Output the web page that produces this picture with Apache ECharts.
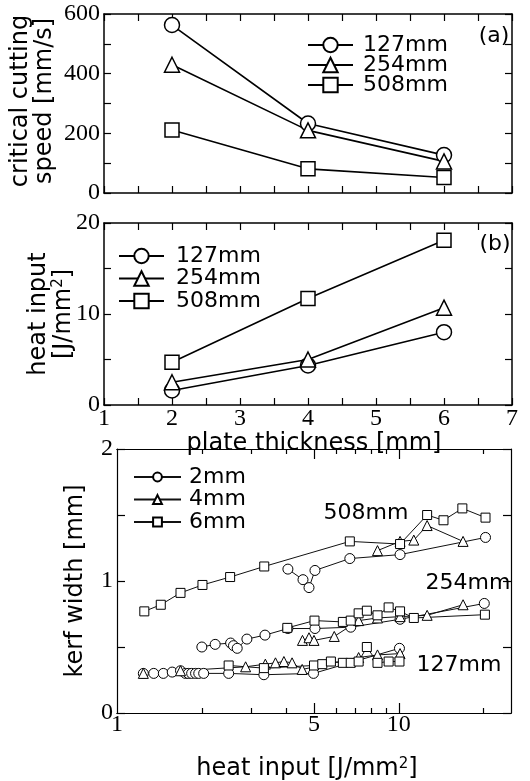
<!DOCTYPE html>
<html>
<head>
<meta charset="utf-8">
<script src="https://cdn.jsdelivr.net/npm/echarts@6.0.0/dist/echarts.min.js"></script>
<style>
html, body { margin: 0; padding: 0; background: #fff; }
#main { width: 530px; height: 781px; }
</style>
</head>
<body>
<div id="main"></div>
<script>
// plate thickness [mm]
var thickness = [2, 4, 6];
// (a) critical cutting speed [mm/s]
var speed127 = [563, 233, 127];
var speed254 = [430, 210, 106];
var speed508 = [211, 81, 52];
// (b) heat input [J/mm2]
var heat127 = [1.6, 4.35, 8.0];
var heat254 = [2.5, 5.0, 10.7];
var heat508 = [4.7, 11.7, 18.1];
var thickTicks = [1, 2, 3, 4, 5, 6, 7];

// kerf width vs heat input, [heat input, kerf width], one list per plate / beam
var kerf2mm_508 = [[4.04, 1.09], [4.57, 1.01], [4.80, 0.95], [5.04, 1.08], [6.7, 1.17], [10.1, 1.20], [20.3, 1.33]];
var kerf4mm_508 = [[8.4, 1.23], [10.1, 1.30], [11.3, 1.31], [12.6, 1.42], [16.9, 1.30]];
var kerf6mm_508 = [[1.25, 0.77], [1.43, 0.82], [1.68, 0.91], [2.01, 0.97], [2.52, 1.03], [3.33, 1.11], [6.7, 1.30], [10.1, 1.28], [12.6, 1.50], [14.4, 1.46], [16.8, 1.55], [20.3, 1.48]];

var kerf2mm_254 = [[2.0, 0.50], [2.23, 0.52], [2.53, 0.53], [2.59, 0.51], [2.67, 0.49], [2.89, 0.56], [3.35, 0.59], [4.04, 0.64], [5.04, 0.64], [6.75, 0.65], [10.1, 0.71], [20.1, 0.83]];
var kerf4mm_254 = [[4.55, 0.55], [4.8, 0.57], [5.0, 0.55], [5.9, 0.58], [7.2, 0.70], [8.4, 0.72], [10.1, 0.73], [12.6, 0.74], [16.9, 0.82]];
var kerf6mm_254 = [[4.02, 0.645], [5.02, 0.70], [6.33, 0.69], [6.75, 0.70], [7.2, 0.755], [7.7, 0.775], [8.4, 0.74], [9.2, 0.80], [10.1, 0.77], [11.3, 0.72], [20.2, 0.745]];

var kerf2mm_127 = [[1.24, 0.30], [1.35, 0.30], [1.46, 0.30], [1.57, 0.31], [1.68, 0.32], [1.75, 0.30], [1.79, 0.30], [1.84, 0.30], [1.90, 0.30], [1.95, 0.30], [2.03, 0.30], [2.49, 0.30], [3.32, 0.29], [4.98, 0.30], [10.05, 0.49]];
var kerf4mm_127 = [[1.24, 0.30], [1.68, 0.32], [2.86, 0.35], [3.36, 0.37], [3.65, 0.38], [3.91, 0.39], [4.18, 0.38], [4.54, 0.33], [7.2, 0.42], [8.4, 0.44], [10.1, 0.45]];
var kerf6mm_127 = [[2.49, 0.36], [3.32, 0.34], [5.0, 0.36], [5.35, 0.37], [5.74, 0.39], [6.33, 0.38], [6.75, 0.38], [7.2, 0.39], [7.7, 0.50], [8.4, 0.38], [9.2, 0.39], [10.05, 0.39]];

var heatMajor = [5, 10];
var heatMinor = [2, 3, 4, 6, 7, 8, 9, 20];
var heatLabels = [1, 5, 10];

var SANS = '"DejaVu Sans", sans-serif';
var SERIF = '"Liberation Serif", "DejaVu Serif", serif';

function pairs(xs, ys) {
  return xs.map(function (x, i) { return [x, ys[i]]; });
}

var myChart = echarts.init(document.getElementById('main'));

function frameX(grid, pos, labels, opt) {
  var a = {
    type: 'value', gridIndex: grid, position: pos,
    min: 1, max: 7, interval: 0.5,
    axisLine: { onZero: false, lineStyle: { color: '#000', width: 1.5 } },
    axisTick: { inside: true, length: 7, lineStyle: { color: '#000', width: 1.2 } },
    axisLabel: { show: labels, margin: 2, color: '#000', fontFamily: SERIF, fontSize: 24,
      customValues: thickTicks },
    splitLine: { show: false },
    nameMoveOverlap: false
  };
  return Object.assign(a, opt || {});
}

function frameY(grid, pos, max, interval, labelStep, labels, opt) {
  var a = {
    type: 'value', gridIndex: grid, position: pos,
    min: 0, max: max, interval: interval,
    axisLine: { onZero: false, lineStyle: { color: '#000', width: 1.5 } },
    axisTick: { inside: true, length: 7, lineStyle: { color: '#000', width: 1.2 } },
    axisLabel: { show: labels, margin: 4, color: '#000', fontFamily: SERIF, fontSize: 24,
      formatter: function (v) { return Math.abs(v % labelStep) < 1e-9 ? v : ''; } },
    splitLine: { show: false },
    nameMoveOverlap: false
  };
  return Object.assign(a, opt || {});
}

// log heat-input axis; several share the frame, each with its own tick set
function logX(pos, ticks, len, labels) {
  return {
    type: 'log', gridIndex: 2, position: pos,
    min: 1, max: 25,
    axisLine: { onZero: false, lineStyle: { color: '#000', width: 1.2 } },
    axisTick: { inside: true, length: len, customValues: ticks, lineStyle: { color: '#000', width: 1.2 } },
    axisLabel: { show: labels, margin: 0, color: '#000', fontFamily: SERIF, fontSize: 24,
      customValues: heatLabels },
    splitLine: { show: false },
    nameMoveOverlap: false
  };
}

var big = { borderColor: '#000', borderWidth: 1.5, color: '#fff' };
function abSeries(name, sym, xi, yi, data) {
  return {
    name: name, type: 'line', xAxisIndex: xi, yAxisIndex: yi,
    data: data, symbol: sym, symbolSize: sym === 'rect' ? 14 : 15,
    itemStyle: big,
    lineStyle: { color: '#000', width: 1.6 },
    emphasis: { disabled: true }, z: 3
  };
}
function kerfSeries(name, sym, data) {
  return {
    name: name, type: 'line', xAxisIndex: 4, yAxisIndex: 4,
    data: data, symbol: sym, symbolSize: sym === 'rect' ? 9 : 10,
    itemStyle: { borderColor: '#000', borderWidth: 1, color: '#fff' },
    lineStyle: { color: '#111', width: 1 },
    emphasis: { disabled: true }, z: 3
  };
}

var sup = { s: { fontSize: 15, verticalAlign: 'top', fontFamily: SANS, color: '#000' } };

var option = {
  animation: false,
  backgroundColor: '#fff',
  textStyle: { fontFamily: SANS },
  grid: [
    { left: 104, right: 18, top: 14, height: 179, outerBoundsMode: 'none' },
    { left: 104, right: 18, top: 223, height: 182, outerBoundsMode: 'none' },
    { left: 117, right: 19, top: 449, height: 264, outerBoundsMode: 'none' }
  ],
  legend: [
    {
      data: ['127mm', '254mm', '508mm'], orient: 'vertical', left: 302, top: 29,
      itemWidth: 45, itemHeight: 18, itemGap: -2, selectedMode: false,
      textStyle: { fontFamily: SANS, fontSize: 22, lineHeight: 20, color: '#000', padding: [0, 0, 0, 5] }
    },
    {
      data: ['127mm', '254mm', '508mm'], orient: 'vertical', left: 113, top: 240,
      itemWidth: 45, itemHeight: 18, itemGap: 0.5, selectedMode: false,
      textStyle: { fontFamily: SANS, fontSize: 22, lineHeight: 22, color: '#000', padding: [0, 0, 0, 7] }
    },
    {
      data: ['2mm', '4mm', '6mm'], orient: 'vertical', left: 128, top: 461,
      itemWidth: 47, itemHeight: 11, itemGap: 0.5, selectedMode: false,
      textStyle: { fontFamily: SANS, fontSize: 22, lineHeight: 22, color: '#000', padding: [0, 0, 0, 3] }
    }
  ],
  xAxis: [
    frameX(0, 'bottom', false),
    frameX(0, 'top', false),
    frameX(1, 'bottom', true, {
      name: 'plate thickness [mm]', nameLocation: 'middle', nameGap: 27,
      nameTextStyle: { fontFamily: SANS, fontSize: 24, color: '#000', padding: [0, 0, 0, 12] }
    }),
    frameX(1, 'top', false),
    Object.assign(logX('bottom', heatMajor, 10, true), {
      name: '{t|heat input [J/mm}{s|2}{t|]}', nameLocation: 'middle', nameGap: 44,
      nameTextStyle: { rich: Object.assign({ t: { fontFamily: SANS, fontSize: 24, color: '#000' } }, sup), padding: [0, 14, 0, 0] }
    }),
    logX('bottom', heatMinor, 5, false),
    logX('top', heatMajor, 10, false),
    logX('top', heatMinor, 5, false)
  ],
  yAxis: [
    frameY(0, 'left', 600, 100, 200, true, {
      name: 'critical cutting\nspeed [mm/s]', nameLocation: 'middle', nameGap: 47, nameRotate: 90,
      nameTextStyle: { fontFamily: SANS, fontSize: 24, lineHeight: 24, color: '#000', padding: [0, 0, 0, 5] }
    }),
    frameY(0, 'right', 600, 100, 200, false),
    frameY(1, 'left', 20, 5, 10, true, {
      name: '{t|heat input}\n{t|[J/mm}{s|2}{t|]}', nameLocation: 'middle', nameGap: 28, nameRotate: 90,
      nameTextStyle: { rich: Object.assign({ t: { fontFamily: SANS, fontSize: 24, lineHeight: 25, color: '#000' } }, sup) }
    }),
    frameY(1, 'right', 20, 5, 10, false),
    frameY(2, 'left', 2, 0.5, 1, true, {
      axisLine: { onZero: false, lineStyle: { color: '#000', width: 1.2 } },
      axisTick: { inside: true, length: 8, lineStyle: { color: '#000', width: 1.2 } },
      name: 'kerf width [mm]', nameLocation: 'middle', nameGap: 29, nameRotate: 90,
      nameTextStyle: { fontFamily: SANS, fontSize: 24, color: '#000' }
    }),
    frameY(2, 'right', 2, 0.5, 1, false, {
      axisLine: { onZero: false, lineStyle: { color: '#000', width: 1.2 } },
      axisTick: { inside: true, length: 8, lineStyle: { color: '#000', width: 1.2 } }
    })
  ],
  graphic: [
    { type: 'text', x: 494, y: 36, style: { text: '(a)', font: '22px ' + SANS, fill: '#000', align: 'center', verticalAlign: 'middle' } },
    { type: 'text', x: 495, y: 244, style: { text: '(b)', font: '22px ' + SANS, fill: '#000', align: 'center', verticalAlign: 'middle' } },
    { type: 'text', x: 366, y: 513, style: { text: '508mm', font: '22px ' + SANS, fill: '#000', align: 'center', verticalAlign: 'middle' } },
    { type: 'text', x: 468, y: 583, style: { text: '254mm', font: '22px ' + SANS, fill: '#000', align: 'center', verticalAlign: 'middle' } },
    { type: 'text', x: 459, y: 665, style: { text: '127mm', font: '22px ' + SANS, fill: '#000', align: 'center', verticalAlign: 'middle' } }
  ],
  series: [
    abSeries('127mm', 'circle', 0, 0, pairs(thickness, speed127)),
    abSeries('254mm', 'triangle', 0, 0, pairs(thickness, speed254)),
    abSeries('508mm', 'rect', 0, 0, pairs(thickness, speed508)),
    abSeries('127mm', 'circle', 2, 2, pairs(thickness, heat127)),
    abSeries('254mm', 'triangle', 2, 2, pairs(thickness, heat254)),
    abSeries('508mm', 'rect', 2, 2, pairs(thickness, heat508)),
    kerfSeries('2mm', 'circle', kerf2mm_127),
    kerfSeries('4mm', 'triangle', kerf4mm_127),
    kerfSeries('6mm', 'rect', kerf6mm_127),
    kerfSeries('2mm', 'circle', kerf2mm_254),
    kerfSeries('4mm', 'triangle', kerf4mm_254),
    kerfSeries('6mm', 'rect', kerf6mm_254),
    kerfSeries('2mm', 'circle', kerf2mm_508),
    kerfSeries('4mm', 'triangle', kerf4mm_508),
    kerfSeries('6mm', 'rect', kerf6mm_508)
  ]
};

myChart.setOption(option);
</script>
</body>
</html>
